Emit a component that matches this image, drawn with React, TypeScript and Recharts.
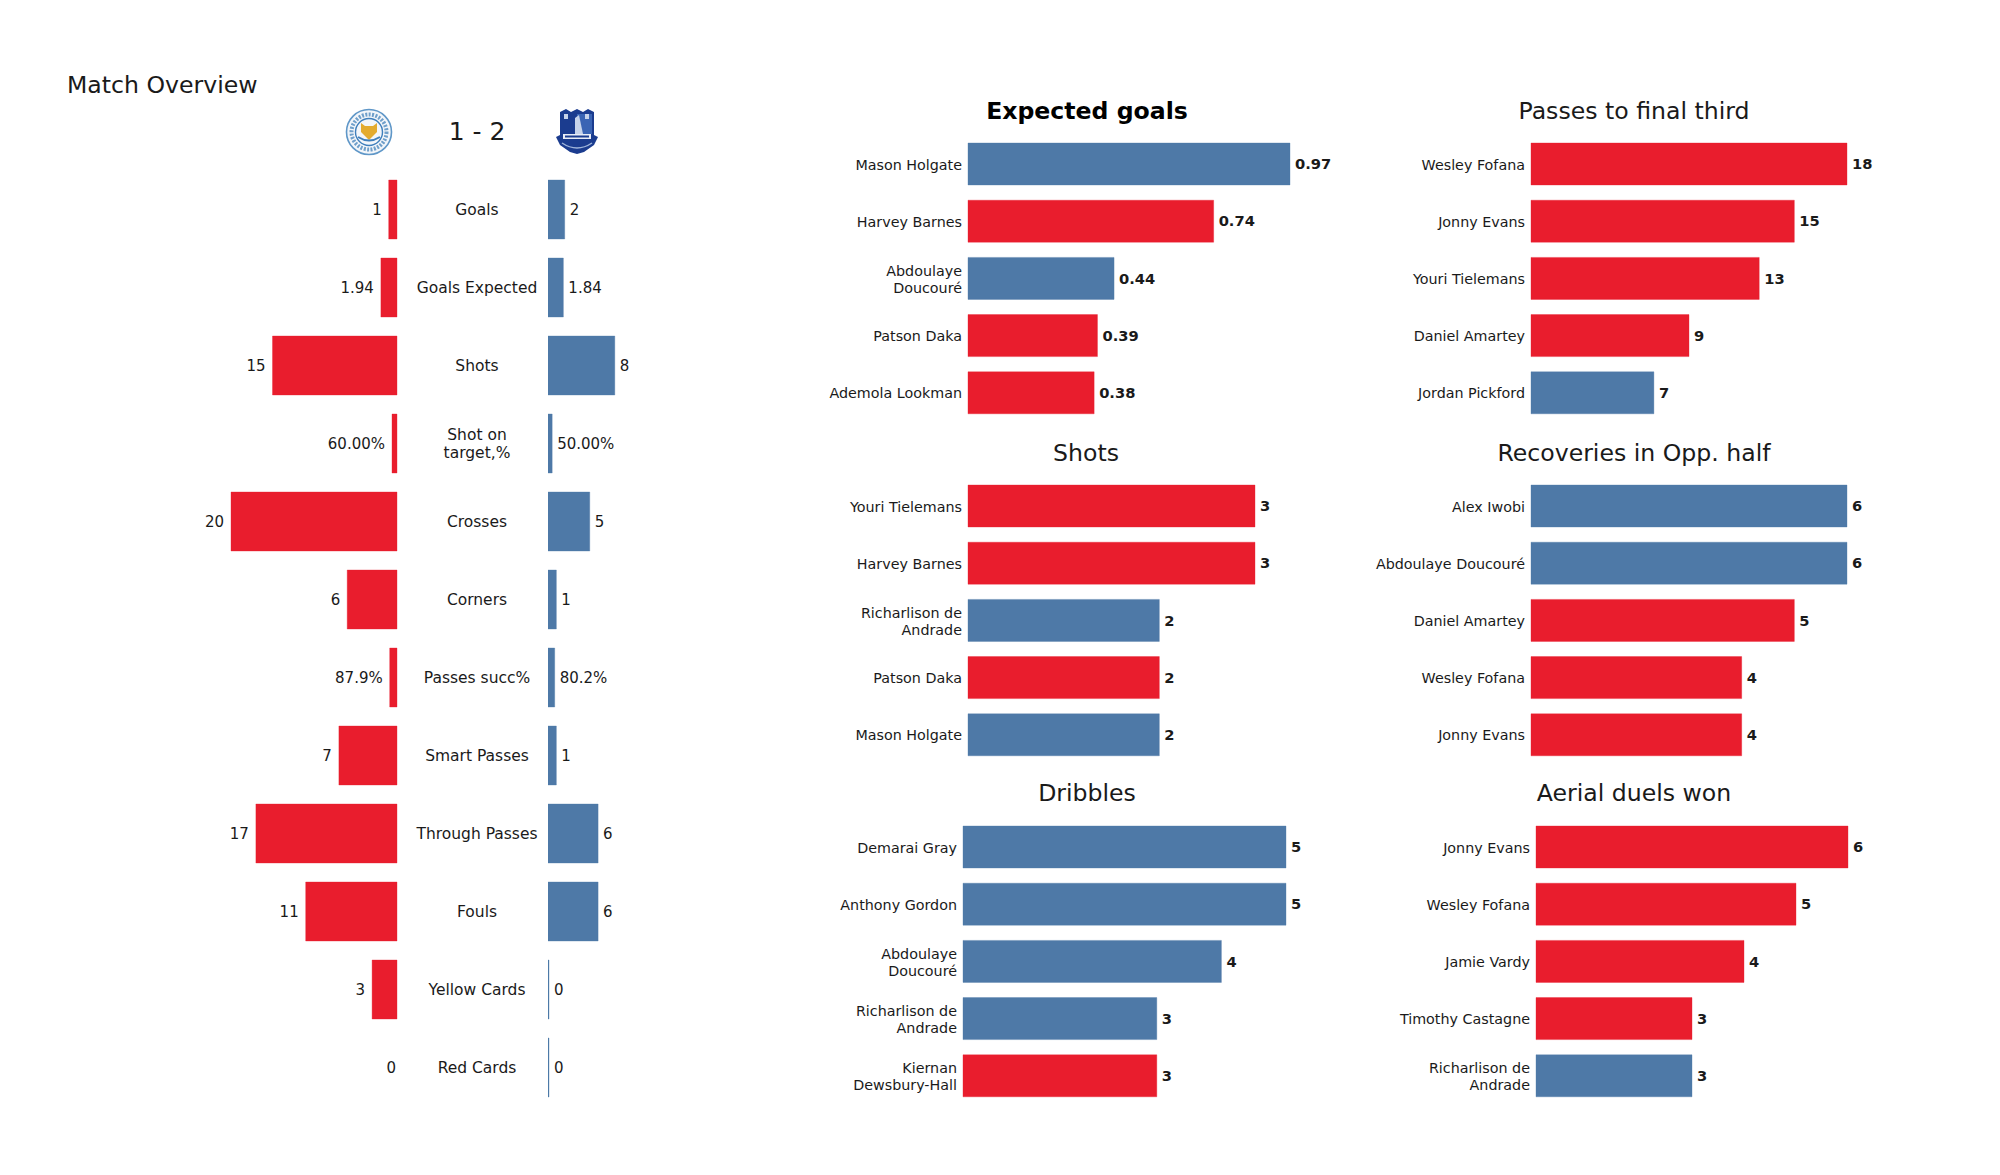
import { BarChart, Bar, XAxis, YAxis, Cell, LabelList } from "recharts";

const RED = "#e91d2d";
const BLUE = "#4e79a7";
const FONT = "'DejaVu Sans', sans-serif";
const TEXT = "#1a1a1a";

const statNames = [
  "Goals",
  "Goals Expected",
  "Shots",
  "Shot on\ntarget,%",
  "Crosses",
  "Corners",
  "Passes succ%",
  "Smart Passes",
  "Through Passes",
  "Fouls",
  "Yellow Cards",
  "Red Cards",
];
const homeValues = [1, 1.94, 15, 0.6, 20, 6, 0.879, 7, 17, 11, 3, 0];
const awayValues = [2, 1.84, 8, 0.5, 5, 1, 0.802, 1, 6, 6, 0, 0];
const homeLabels = ["1", "1.94", "15", "60.00%", "20", "6", "87.9%", "7", "17", "11", "3", "0"];
const awayLabels = ["2", "1.84", "8", "50.00%", "5", "1", "80.2%", "1", "6", "6", "0", "0"];

const xgNames = ["Mason Holgate", "Harvey Barnes", "Abdoulaye\nDoucouré", "Patson Daka", "Ademola Lookman"];
const xgValues = [0.97, 0.74, 0.44, 0.39, 0.38];
const xgTeams = [BLUE, RED, BLUE, RED, RED];

const shotNames = ["Youri Tielemans", "Harvey Barnes", "Richarlison de\nAndrade", "Patson Daka", "Mason Holgate"];
const shotValues = [3, 3, 2, 2, 2];
const shotTeams = [RED, RED, BLUE, RED, BLUE];

const dribbleNames = ["Demarai Gray", "Anthony Gordon", "Abdoulaye\nDoucouré", "Richarlison de\nAndrade", "Kiernan\nDewsbury-Hall"];
const dribbleValues = [5, 5, 4, 3, 3];
const dribbleTeams = [BLUE, BLUE, BLUE, BLUE, RED];

const finalThirdNames = ["Wesley Fofana", "Jonny Evans", "Youri Tielemans", "Daniel Amartey", "Jordan Pickford"];
const finalThirdValues = [18, 15, 13, 9, 7];
const finalThirdTeams = [RED, RED, RED, RED, BLUE];

const recoveryNames = ["Alex Iwobi", "Abdoulaye Doucouré", "Daniel Amartey", "Wesley Fofana", "Jonny Evans"];
const recoveryValues = [6, 6, 5, 4, 4];
const recoveryTeams = [BLUE, BLUE, RED, RED, RED];

const aerialNames = ["Jonny Evans", "Wesley Fofana", "Jamie Vardy", "Timothy Castagne", "Richarlison de\nAndrade"];
const aerialValues = [6, 5, 4, 3, 3];
const aerialTeams = [RED, RED, RED, RED, BLUE];

const homeRows = statNames.map((name, i) => ({ name, value: homeValues[i], label: homeLabels[i] }));
const awayRows = statNames.map((name, i) => ({ name, value: awayValues[i], label: awayLabels[i] }));

const StatTick = ({ x, y, payload }: any) => {
  const lines = String(payload.value).split("\n");
  return (
    <text x={x + 72} y={y} textAnchor="middle" fontSize={15.5} fontFamily={FONT} fill={TEXT}>
      {lines.map((line, i) => (
        <tspan key={i} x={x + 72} dy={i === 0 ? (lines.length === 1 ? 6 : -3) : 18}>
          {line}
        </tspan>
      ))}
    </text>
  );
};

const PlayerTick = ({ x, y, payload }: any) => {
  const lines = String(payload.value).split("\n");
  return (
    <text x={x} y={y} textAnchor="end" fontSize={14.3} fontFamily={FONT} fill={TEXT}>
      {lines.map((line, i) => (
        <tspan key={i} x={x} dy={i === 0 ? (lines.length === 1 ? 6 : -2.5) : 17}>
          {line}
        </tspan>
      ))}
    </text>
  );
};

const labelStyle = { fontSize: 15, fontFamily: FONT, fill: TEXT };

// the reversed axis hands back a negative width, so the label is placed by hand
const HomeLabel = (props: any) => {
  const box = props.viewBox ?? props;
  const barEnd = Math.min(box.x, box.x + box.width);
  const gap = props.value === "0" ? 1 : 7;
  return (
    <text x={barEnd - gap} y={box.y + box.height / 2 + 5} textAnchor="end" {...labelStyle}>
      {props.value}
    </text>
  );
};

const HomeBars = () => (
  <div style={{ position: "absolute", left: 190, top: 170 }}>
    <BarChart
      width={360}
      height={936}
      data={homeRows}
      layout="vertical"
      margin={{ top: 0, right: 0, bottom: 0, left: 41 }}
    >
      <XAxis type="number" domain={[0, 20]} reversed hide />
      <YAxis
        type="category"
        dataKey="name"
        orientation="right"
        width={153}
        interval={0}
        axisLine={false}
        tickLine={false}
        tick={<StatTick />}
      />
      {/* minPointSize keeps the zero row alive so its label is drawn; its rect stays invisible */}
      <Bar dataKey="value" barSize={59} minPointSize={1} strokeOpacity={0.35} isAnimationActive={false}>
        {homeRows.map((row) => (
          <Cell key={row.name} fill={row.value === 0 ? "none" : RED} stroke={row.value === 0 ? "none" : RED} />
        ))}
        <LabelList dataKey="label" content={<HomeLabel />} />
      </Bar>
    </BarChart>
  </div>
);

const AwayBars = () => (
  <div style={{ position: "absolute", left: 548, top: 170 }}>
    <BarChart
      width={240}
      height={936}
      data={awayRows}
      layout="vertical"
      margin={{ top: 0, right: 73, bottom: 0, left: 0 }}
    >
      <XAxis type="number" domain={[0, 20]} hide />
      <YAxis type="category" dataKey="name" hide />
      <Bar dataKey="value" fill={BLUE} stroke={BLUE} strokeOpacity={0.35} barSize={59} minPointSize={1} isAnimationActive={false}>
        <LabelList dataKey="label" position="right" offset={5} style={labelStyle} />
      </Bar>
    </BarChart>
  </div>
);

interface PlayerPanelProps {
  title: string;
  bold?: boolean;
  names: string[];
  values: number[];
  colors: string[];
  barLeft: number;
  plotWidth: number;
  centerY: number;
  titleX: number;
  titleY: number;
}

const AXIS_W = 190;

const PlayerPanel = ({ title, bold, names, values, colors, barLeft, plotWidth, centerY, titleX, titleY }: PlayerPanelProps) => {
  const rows = names.map((name, i) => ({ name, value: values[i] }));
  return (
    <>
      <div
        style={{
          position: "absolute",
          left: titleX - 200,
          top: titleY - 16,
          width: 400,
          textAlign: "center",
          fontSize: 23.6,
          lineHeight: "32px",
          fontWeight: bold ? "bold" : "normal",
          color: bold ? "#000" : TEXT,
        }}
      >
        {title}
      </div>
      <div style={{ position: "absolute", left: barLeft - AXIS_W, top: centerY - 143 }}>
        <BarChart
          width={AXIS_W + plotWidth + 70}
          height={286}
          data={rows}
          layout="vertical"
          margin={{ top: 0, right: 70, bottom: 0, left: 0 }}
        >
          <XAxis type="number" domain={[0, Math.max(...values)]} hide />
          <YAxis
            type="category"
            dataKey="name"
            width={AXIS_W}
            interval={0}
            axisLine={false}
            tickLine={false}
            tickMargin={0}
            tick={<PlayerTick />}
          />
          <Bar dataKey="value" barSize={42} strokeOpacity={0.35} isAnimationActive={false}>
            {rows.map((row, i) => (
              <Cell key={row.name} fill={colors[i]} stroke={colors[i]} />
            ))}
            <LabelList dataKey="value" position="right" offset={5} style={{ ...labelStyle, fontSize: 14.7, fontWeight: "bold" }} />
          </Bar>
        </BarChart>
      </div>
    </>
  );
};

const LeicesterCrest = () => (
  <svg width={48} height={48} viewBox="0 0 48 48" style={{ position: "absolute", left: 344.5, top: 107.5 }}>
    <circle cx={24} cy={24} r={22.5} fill="#f3f6fa" stroke="#5f97c8" strokeWidth={1.6} />
    <circle cx={24} cy={24} r={17.5} fill="none" stroke="#6f9fca" strokeWidth={4} strokeDasharray="2 1.4" />
    <circle cx={24} cy={24} r={13.5} fill="#f3f6fa" stroke="#3f7fbc" strokeWidth={1.4} />
    <path d="M16 15 L20 18 L28 18 L32 15 L32 24 L24 32 L16 24 Z" fill="#e3ab2f" />
    <path d="M13 29 Q24 36 35 29" fill="none" stroke="#3f7fbc" strokeWidth={2} />
  </svg>
);

const EvertonCrest = () => (
  <svg width={46} height={48} viewBox="0 0 46 48" style={{ position: "absolute", left: 553.5, top: 107 }}>
    <path d="M6 5 L12 2 L17 5 L23 2 L29 5 L34 2 L40 5 L40 28 L44 30 L40 38 L30 45 L23 47 L16 45 L6 38 L2 30 L6 28 Z" fill="#1b3c8f" />
    <path d="M23 7 L38 7 L38 27 L23 27 Z" fill="#3a64b4" />
    <path d="M21 27 L21 11 L25 8 L29 27 Z" fill="#c6d3ea" />
    <path d="M10 7 L14 7 L14 12 L10 12 Z M31 7 L35 7 L35 12 L31 12 Z" fill="#c6d3ea" />
    <rect x={9} y={27} width={28} height={5} fill="#e8edf6" />
    <rect x={11} y={28.5} width={24} height={2} fill="#1b3c8f" />
    <path d="M8 36 Q23 46 38 36" fill="none" stroke="#9fb4da" strokeWidth={1.5} />
  </svg>
);

const App = () => (
  <div
    style={{
      position: "absolute",
      left: 0,
      top: 0,
      width: 2000,
      height: 1175,
      overflow: "hidden",
      background: "#fff",
      fontFamily: FONT,
      color: TEXT,
    }}
  >
    <div style={{ position: "absolute", left: 67, top: 68.5, fontSize: 23.6, lineHeight: "32px" }}>Match Overview</div>
    <LeicesterCrest />
    <div style={{ position: "absolute", left: 397, top: 114, width: 160, textAlign: "center", fontSize: 25, lineHeight: "36px" }}>
      1 - 2
    </div>
    <EvertonCrest />
    <HomeBars />
    <AwayBars />

    <PlayerPanel title="Expected goals" bold names={xgNames} values={xgValues} colors={xgTeams} barLeft={968} plotWidth={322} centerY={278} titleX={1087} titleY={111} />
    <PlayerPanel title="Shots" names={shotNames} values={shotValues} colors={shotTeams} barLeft={968} plotWidth={287} centerY={620} titleX={1086} titleY={453} />
    <PlayerPanel title="Dribbles" names={dribbleNames} values={dribbleValues} colors={dribbleTeams} barLeft={963} plotWidth={323} centerY={961} titleX={1087} titleY={793} />
    <PlayerPanel title="Passes to final third" names={finalThirdNames} values={finalThirdValues} colors={finalThirdTeams} barLeft={1531} plotWidth={316} centerY={278} titleX={1634} titleY={111} />
    <PlayerPanel title="Recoveries in Opp. half" names={recoveryNames} values={recoveryValues} colors={recoveryTeams} barLeft={1531} plotWidth={316} centerY={620} titleX={1634} titleY={453} />
    <PlayerPanel title="Aerial duels won" names={aerialNames} values={aerialValues} colors={aerialTeams} barLeft={1536} plotWidth={312} centerY={961} titleX={1634} titleY={793} />
  </div>
);

export default App;
